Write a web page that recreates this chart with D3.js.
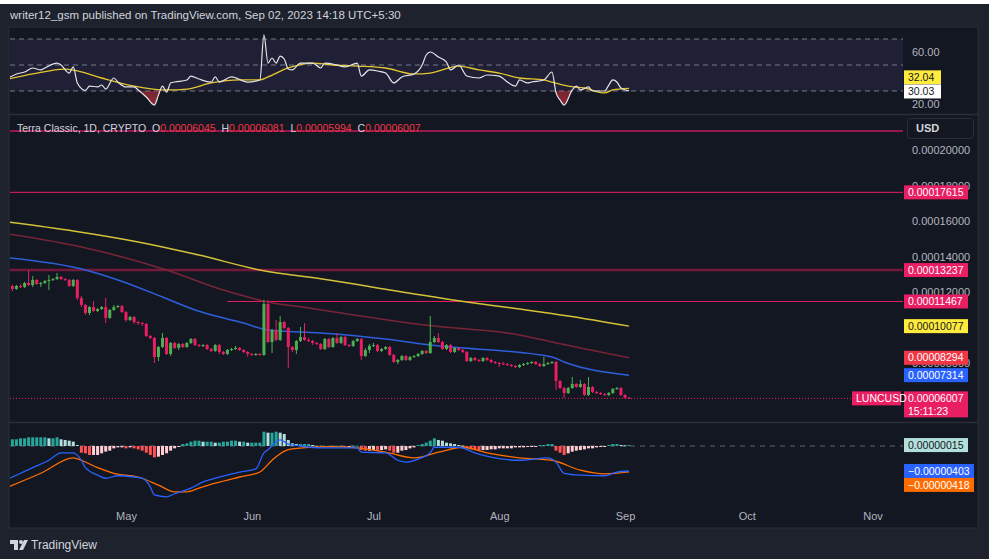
<!DOCTYPE html>
<html>
<head>
<meta charset="utf-8">
<script src="https://cdn.jsdelivr.net/npm/d3@7"></script>
<style>
  body { margin: 0; background: #1e222d; }
  svg { display: block; font-family: "Liberation Sans", Arial, sans-serif; }
</style>
</head>
<body>
<svg id="chart" width="989" height="559"></svg>
<script>
// ---- data (prices in units of 1e-5 USD, MACD in units of 1e-6) ----
var firstDay = new Date(2023, 3, 3);   // first daily candle, Apr 3 2023
var firstOpen = 12.34;

var closes = [12.17,12.34,12.28,12.51,12.39,12.68,12.45,12.51,12.62,12.68,12.73,12.85,12.73,12.68,12.34,12.68,
  11.66,11.27,10.82,11.15,10.93,11.04,11.15,10.54,10.99,11.15,11.21,10.87,10.42,10.59,10.31,10.25,10.20,9.52,9.41,
  8.34,8.90,9.41,8.51,9.13,8.85,9.07,8.90,9.13,9.35,9.01,8.96,9.01,8.79,8.68,9.01,8.62,8.51,8.73,8.79,8.85,8.73,
  8.62,8.51,8.45,8.51,8.45,11.32,9.18,9.86,9.30,10.31,9.97,8.90,8.73,9.24,9.46,9.30,9.24,9.13,9.07,8.79,9.35,8.90,
  9.41,9.13,9.46,9.01,8.96,9.24,9.35,8.39,8.73,8.96,9.01,8.68,8.79,8.90,8.45,8.06,8.17,8.39,8.17,8.34,8.39,8.51,
  8.68,8.56,9.18,9.41,9.18,8.79,9.01,8.62,8.85,8.73,8.62,8.11,8.28,8.17,8.11,8.28,8.17,8.06,8.00,7.97,7.94,7.89,
  7.83,7.77,7.89,7.94,8.00,8.06,7.94,7.83,7.94,8.00,8.06,6.99,6.59,6.31,6.59,6.82,6.65,6.82,6.20,6.65,6.37,6.31,
  6.25,6.20,6.31,6.54,6.59,6.20,6.045,6.007];

var highs = [12.40,12.40,12.45,12.57,13.24,12.90,12.73,12.57,12.68,12.96,12.79,13.07,12.90,12.79,12.73,12.73,
  12.73,11.77,11.32,11.21,11.49,11.10,11.21,11.66,11.04,11.27,11.27,11.27,10.93,10.65,10.65,10.37,10.31,10.25,9.58,
  9.46,8.96,9.69,9.46,9.18,9.18,9.13,9.13,9.18,9.41,9.41,9.07,9.07,9.07,8.85,9.07,9.07,8.68,8.79,8.85,8.96,8.90,
  8.79,8.68,8.56,8.56,8.56,11.55,11.55,9.92,10.42,10.65,10.37,10.03,8.96,9.30,10.03,10.25,9.41,9.30,9.18,9.13,9.41,
  9.41,9.46,9.69,9.52,9.52,9.07,9.30,9.41,9.41,8.85,9.07,9.13,9.07,8.85,8.96,8.96,8.51,8.23,8.45,8.45,8.39,8.45,
  8.56,8.73,8.73,10.65,9.52,9.69,9.24,9.07,9.07,8.90,8.90,8.79,8.68,8.34,8.34,8.23,8.34,8.34,8.23,8.11,8.06,8.06,
  8.00,7.94,7.89,7.94,8.00,8.06,8.11,8.11,8.00,8.34,8.06,8.11,8.11,7.04,6.65,6.65,7.21,6.87,7.04,6.87,7.21,6.70,
  6.42,6.37,6.31,6.37,6.59,6.65,6.65,6.25,6.081];

var lows = [12.05,12.12,12.22,12.22,12.34,12.28,12.40,12.28,12.45,12.11,12.62,12.68,12.68,12.62,12.28,12.28,
  11.55,11.15,10.70,10.70,10.87,10.87,10.99,10.25,10.48,10.93,11.10,10.82,10.31,10.37,10.20,10.14,10.08,9.46,9.35,
  8.00,8.11,8.85,8.45,8.40,8.79,8.73,8.85,8.85,9.07,8.96,8.90,8.90,8.73,8.62,8.62,8.51,8.45,8.45,8.68,8.73,8.68,
  8.56,8.34,8.40,8.40,8.40,8.40,9.13,8.56,9.24,9.24,9.92,7.72,8.62,8.51,9.18,9.24,9.18,9.01,9.01,8.73,8.73,8.85,
  8.85,9.07,9.07,8.96,8.90,8.90,9.18,8.17,8.34,8.56,8.90,8.62,8.62,8.73,8.40,8.00,7.94,8.11,8.11,8.11,8.28,8.34,
  8.45,8.51,8.51,9.13,9.13,8.73,8.73,8.56,8.56,8.68,8.56,8.06,8.06,8.11,8.06,8.06,8.11,8.00,7.94,7.77,7.89,7.83,
  7.77,7.72,7.72,7.83,7.89,7.94,7.89,7.77,7.77,7.89,7.94,6.48,6.54,6.03,6.25,6.54,6.59,6.59,6.14,6.14,6.31,6.25,
  6.20,6.14,6.14,6.25,6.48,6.14,6.00,5.994];

// moving averages (day index, value)
var maYellowIdx = [-1, 15, 31, 46, 61, 78, 90, 112, 125, 137, 152];
var maYellowVal = [15.94, 15.44, 14.82, 14.08, 13.24, 12.68, 12.23, 11.44, 11.04, 10.65, 10.077];
var maRedIdx = [-1, 17, 38, 52, 63, 73, 81, 101, 125, 133, 152];
var maRedVal = [15.27, 14.54, 13.24, 12.11, 11.44, 11.10, 10.82, 10.15, 9.58, 9.18, 8.294];
var maBlueIdx = [-1, 18, 26, 37, 45, 57, 63, 76, 92, 103, 133, 136, 152];
var maBlueVal = [13.92, 13.24, 12.68, 11.72, 10.99, 10.25, 9.86, 9.69, 9.35, 9.01, 8.34, 8.06, 7.314];

// horizontal levels
var levelVals = [21.07, 17.615, 13.237, 11.467];
var levelStartIdx = [-1, -1, -1, 53];

// RSI
var rsiIdx = [-1,1,3,5,7,8,11,12,14,15,16,18,19,21,22,23,25,26,28,30,31,33,35,36,37,38,39,40,43,44,46,49,50,51,
  54,58,61,62,63,64,65,66,67,68,69,71,74,76,77,80,82,85,86,88,90,92,94,96,99,101,102,103,105,107,108,110,112,115,
  117,120,122,124,125,127,128,131,133,134,135,136,138,139,140,142,143,146,147,148,149,150,152];
var rsiVal = [40.0,43.1,44.6,47.7,46.2,47.7,51.5,50.0,43.8,48.5,36.2,30.5,33.8,33.1,34.6,31.5,40.0,36.9,33.1,33.1,
  30.8,25.4,19.2,26.9,33.8,29.2,36.2,36.9,38.5,41.5,39.2,36.9,40.8,36.9,40.8,36.9,38.5,73.1,51.5,55.4,51.5,56.9,
  54.6,46.9,46.2,51.5,51.5,47.7,51.5,50.0,48.5,51.5,41.5,46.2,45.4,43.8,36.2,40.8,43.1,50.0,57.7,60.0,56.2,52.3,
  46.2,50.0,41.5,40.0,42.3,41.5,36.9,33.8,38.5,36.2,36.9,38.5,44.6,28.5,23.1,19.2,30.8,33.8,30.8,33.1,30.0,30.0,
  34.6,38.5,36.9,32.3,30.03];
var rsiMaIdx = [-1,5,13,16,22,30,38,43,49,56,61,63,68,74,79,85,92,99,103,110,115,120,125,131,133,137,141,146,148,152];
var rsiMaVal = [39.2,43.1,46.9,45.4,40.0,33.8,30.8,31.5,36.2,38.5,38.5,40.8,47.7,51.5,50.0,49.2,47.7,43.1,43.8,
  49.2,46.2,43.8,40.0,38.5,36.9,33.8,32.3,28.5,30.8,32.04];

// MACD
var macdIdx = [-1,5,9,12,15,17,18,21,23,26,30,32,34,35,38,40,44,47,50,56,60,62,63,66,68,71,76,85,86,92,95,97,100,
  103,104,110,114,118,125,132,134,136,140,146,149,152];
var macdVal = [-5.3,-3.5,-2.3,-1.1,-1.1,-2.3,-3.5,-4.7,-5.2,-4.8,-5.0,-5.2,-6.6,-7.9,-8.2,-7.7,-6.8,-5.8,-5.2,-4.2,
  -3.7,-1.1,-0.6,1.0,0.3,0,-0.3,-0.3,-1.0,-1.1,-2.3,-2.6,-2.1,-1.1,-0.2,-0.2,-1.1,-1.8,-2.3,-1.9,-2.6,-4.4,-4.7,
  -4.8,-4.2,-4.03];
var sigIdx = [-1,7,15,17,21,25,31,36,40,43,46,50,56,61,64,68,74,78,85,92,99,105,111,117,125,133,140,146,152];
var sigVal = [-6.6,-4.4,-1.9,-2.3,-3.5,-4.4,-5.0,-6.3,-7.4,-7.4,-6.8,-6.0,-5.0,-4.2,-2.3,-0.6,-0.2,-0.1,-0.3,-1.0,
  -1.9,-1.0,-0.2,-1.1,-1.9,-2.3,-3.9,-4.5,-4.18];
var hist = [1.08,1.08,1.24,1.24,1.40,1.40,1.40,1.40,1.40,1.24,1.24,1.40,1.08,0.97,0.86,0.70,0.16,
  -1.08,-1.18,-1.45,-1.45,-1.45,-1.18,-0.91,-0.75,-0.38,-0.22,-0.22,-0.38,-0.22,-0.38,-0.54,-0.75,-1.08,-1.45,-1.83,
  -1.72,-1.45,-1.18,-0.75,-0.38,-0.11,
  0.32,0.43,0.70,0.86,0.86,0.70,0.70,0.70,0.54,0.54,0.70,0.70,0.86,0.86,0.70,0.70,0.54,0.54,0.54,0.54,
  2.31,2.15,2.15,2.31,2.15,1.94,0.97,0.43,0.32,0.32,0.32,0.32,0.16,0.05,
  0.05,-0.05,0.05,-0.05,0.05,0.05,-0.05,-0.05,0.05,0.05,
  -0.65,-0.75,-0.75,-0.65,-0.75,-0.65,-0.54,-0.75,-1.08,-1.08,-0.75,-0.65,-0.38,-0.22,
  0.16,0.32,0.54,0.86,1.24,0.97,0.86,0.54,0.43,0.32,0.16,0.05,
  -0.38,-0.54,-0.65,-0.75,-0.65,-0.65,-0.54,-0.54,-0.38,-0.38,-0.38,-0.38,-0.22,-0.22,-0.22,-0.11,-0.05,-0.05,
  0.16,0.16,0.32,0.32,
  -0.75,-1.08,-1.45,-1.18,-0.91,-0.75,-0.65,-0.54,-0.38,-0.38,-0.22,-0.11,-0.05,
  0.16,0.32,0.32,0.16,0.11,0.15];

var priceTicks = [20, 18, 16, 14, 12, 8];
var rsiTicks = [60, 20];
var rsiLevels = [70, 50, 30];

// ---- layout ----
var W = 989, H = 559;
var plotL = 10, plotR = 903;
var svg = d3.select("#chart");

var up = "#4caf50", down = "#e91e63";
function day(i) { return d3.timeDay.offset(firstDay, i); }
function fmt8(v) { return (v < 0 ? "\u22120" : "0") + d3.format(".8f")(Math.abs(v)).slice(1); }

// background and frame
svg.append("rect").attr("width", W).attr("height", H).attr("fill", "#1e222d");
svg.append("rect").attr("width", W).attr("height", 4).attr("fill", "#ffffff");
svg.append("rect").attr("x", 9).attr("y", 27).attr("width", 969).attr("height", 501)
  .attr("fill", "#131722").attr("stroke", "#2a2e39");
[114.5, 422.5].forEach(function (y) {
  svg.append("line").attr("x1", 9).attr("x2", 978).attr("y1", y).attr("y2", y)
    .attr("stroke", "#2a2e39").attr("stroke-width", 1.5);
});

svg.append("text").attr("x", 10).attr("y", 19).attr("fill", "#d1d4dc").attr("font-size", 11.5)
  .text("writer12_gsm published on TradingView.com, Sep 02, 2023 14:18 UTC+5:30");

// x scale: May 1 .. Sep 1 mapped, then widened to the visible area
var x0 = d3.scaleTime().domain([new Date(2023, 4, 1), new Date(2023, 8, 1)]).range([126, 625]);
var x = x0.copy().domain([x0.invert(plotL), x0.invert(plotR)]).range([plotL, plotR]);

var defs = svg.append("defs");
function clip(id, y0, y1) {
  defs.append("clipPath").attr("id", id).append("rect")
    .attr("x", plotL).attr("y", y0).attr("width", plotR - plotL).attr("height", y1 - y0);
}
clip("clipRsi", 28, 114);
clip("clipMain", 115, 422);
clip("clipMacd", 423, 507);

function pts(idx, vals) { return idx.map(function (d, k) { return [day(d), vals[k]]; }); }

// ---- RSI pane ----
var yR = d3.scaleLinear().domain([20, 60]).range([104, 52]);
var gR = svg.append("g").attr("clip-path", "url(#clipRsi)");
gR.append("rect").attr("x", plotL).attr("width", plotR - plotL)
  .attr("y", yR(70)).attr("height", yR(30) - yR(70)).attr("fill", "rgba(126,87,194,0.12)");
rsiLevels.forEach(function (v) {
  gR.append("line").attr("x1", plotL).attr("x2", plotR).attr("y1", yR(v)).attr("y2", yR(v))
    .attr("stroke", "#787b86").attr("stroke-dasharray", "5,4").attr("stroke-width", 1);
});

var grad = defs.append("linearGradient").attr("id", "osGrad").attr("x1", 0).attr("x2", 0).attr("y1", 0).attr("y2", 1);
grad.append("stop").attr("offset", "0%").attr("stop-color", "rgba(242,54,69,0.05)");
grad.append("stop").attr("offset", "100%").attr("stop-color", "rgba(242,54,69,0.55)");
defs.append("clipPath").attr("id", "clipOs").append("rect")
  .attr("x", plotL).attr("y", yR(30)).attr("width", plotR - plotL).attr("height", 114 - yR(30));

var rsiPts = pts(rsiIdx, rsiVal);
gR.append("path").datum(rsiPts).attr("clip-path", "url(#clipOs)")
  .attr("fill", "url(#osGrad)")
  .attr("d", d3.area().x(function (d) { return x(d[0]); }).y0(yR(30)).y1(function (d) { return yR(d[1]); })
    .curve(d3.curveMonotoneX));

var lineR = d3.line().x(function (d) { return x(d[0]); }).y(function (d) { return yR(d[1]); }).curve(d3.curveMonotoneX);
gR.append("path").datum(pts(rsiMaIdx, rsiMaVal)).attr("fill", "none")
  .attr("stroke", "#e6c62e").attr("stroke-width", 1.3).attr("d", lineR);
gR.append("path").datum(rsiPts).attr("fill", "none")
  .attr("stroke", "#e4e4e8").attr("stroke-width", 1.2).attr("d", lineR);

rsiTicks.forEach(function (v) {
  svg.append("text").attr("x", 912).attr("y", yR(v)).attr("dy", "0.35em")
    .attr("fill", "#b2b5be").attr("font-size", 11).text(d3.format(".2f")(v));
});

// ---- main price pane ----
var yP = d3.scaleLinear().domain([6, 20]).range([398.5, 150]);
var gM = svg.append("g").attr("clip-path", "url(#clipMain)");

svg.append("g").attr("transform", "translate(905,0)")
  .call(d3.axisRight(yP).tickValues(priceTicks).tickSize(0).tickPadding(7)
    .tickFormat(function (v) { return fmt8(v * 1e-5); }))
  .call(function (g) {
    g.select(".domain").remove();
    g.selectAll("text").attr("fill", "#b2b5be").attr("font-size", 11)
      .attr("font-family", "Liberation Sans, Arial, sans-serif");
  });

// levels
var levelStyle = [
  { c: "#c2185b", w: 1.5 }, { c: "#e91e63", w: 1 }, { c: "#731838", w: 2.5 }, { c: "#e91e63", w: 1 }
];
levelVals.forEach(function (v, k) {
  gM.append("line").attr("x1", Math.max(plotL, x(day(levelStartIdx[k])))).attr("x2", plotR)
    .attr("y1", yP(v)).attr("y2", yP(v))
    .attr("stroke", levelStyle[k].c).attr("stroke-width", levelStyle[k].w);
});

// moving averages
var lineP = d3.line().x(function (d) { return x(d[0]); }).y(function (d) { return yP(d[1]); }).curve(d3.curveMonotoneX);
gM.append("path").datum(pts(maYellowIdx, maYellowVal)).attr("fill", "none")
  .attr("stroke", "#d4c13a").attr("stroke-width", 1.5).attr("d", lineP);
gM.append("path").datum(pts(maRedIdx, maRedVal)).attr("fill", "none")
  .attr("stroke", "#782537").attr("stroke-width", 1.5).attr("d", lineP);
gM.append("path").datum(pts(maBlueIdx, maBlueVal)).attr("fill", "none")
  .attr("stroke", "#2d5fdc").attr("stroke-width", 1.5).attr("d", lineP);

// current price dotted line
var last = closes[closes.length - 1];
gM.append("line").attr("x1", plotL).attr("x2", 853).attr("y1", yP(last)).attr("y2", yP(last))
  .attr("stroke", "#e91e63").attr("stroke-dasharray", "1,2");

// candles
var candles = closes.map(function (c, i) {
  return { date: day(i), o: i === 0 ? firstOpen : closes[i - 1], h: highs[i], l: lows[i], c: c };
});
candles[candles.length - 1].o = 6.045;
var gc = gM.selectAll(".candle").data(candles).enter().append("g");
gc.append("line")
  .attr("x1", function (d) { return x(d.date); }).attr("x2", function (d) { return x(d.date); })
  .attr("y1", function (d) { return yP(d.h); }).attr("y2", function (d) { return yP(d.l); })
  .attr("stroke", function (d) { return d.c >= d.o ? up : down; });
gc.append("rect")
  .attr("x", function (d) { return x(d.date) - 1.5; }).attr("width", 3)
  .attr("y", function (d) { return yP(Math.max(d.o, d.c)); })
  .attr("height", function (d) { return Math.max(1, Math.abs(yP(d.o) - yP(d.c))); })
  .attr("fill", function (d) { return d.c >= d.o ? up : down; });

// legend
var leg = svg.append("text").attr("x", 17).attr("y", 132).attr("font-size", 10.5);
[["Terra Classic, 1D, CRYPTO  O", "#d1d4dc"], ["0.00006045", "#f23645"], ["  H", "#d1d4dc"], ["0.00006081", "#f23645"],
 ["  L", "#d1d4dc"], ["0.00005994", "#f23645"], ["  C", "#d1d4dc"], ["0.00006007", "#f23645"]].forEach(function (p) {
  leg.append("tspan").attr("fill", p[1]).attr("xml:space", "preserve").text(p[0]);
});

svg.append("rect").attr("x", 907.5).attr("y", 118.5).attr("width", 66).attr("height", 20).attr("rx", 3)
  .attr("fill", "#131722").attr("stroke", "#2a2e39");
svg.append("text").attr("x", 916).attr("y", 132).attr("fill", "#d1d4dc").attr("font-size", 11)
  .attr("font-weight", "bold").text("USD");

// value tags on the axes
function tag(cy, lines, bg, fg, w, x0p) {
  var h = 14 + (lines.length - 1) * 12;
  var xx = x0p || 904;
  svg.append("rect").attr("x", xx).attr("y", cy - 7).attr("width", w).attr("height", h).attr("fill", bg);
  lines.forEach(function (t, k) {
    svg.append("text").attr("x", xx + 4).attr("y", cy + k * 12.5).attr("dy", "0.35em")
      .attr("fill", fg).attr("font-size", 10.5).text(t);
  });
}
tag(yP(17.615), [fmt8(17.615e-5)], "#e91e63", "#ffffff", 64);
tag(yP(13.237), [fmt8(13.237e-5)], "#e91e63", "#ffffff", 64);
tag(yP(11.467), [fmt8(11.467e-5)], "#e91e63", "#ffffff", 64);
tag(yP(10.077), [fmt8(10.077e-5)], "#ffeb3b", "#131722", 64);
tag(yP(8.294), [fmt8(8.294e-5)], "#f23645", "#ffffff", 64);
tag(yP(7.314), [fmt8(7.314e-5)], "#2962ff", "#ffffff", 64);
tag(yP(last), [fmt8(last * 1e-5), "15:11:23"], "#e91e63", "#ffffff", 64);
tag(yP(last), ["LUNCUSD"], "#e91e63", "#ffffff", 49, 852);

tag(yR(rsiMaVal[rsiMaVal.length - 1]) - 11, [d3.format(".2f")(rsiMaVal[rsiMaVal.length - 1])], "#ffeb3b", "#131722", 37);
tag(yR(rsiVal[rsiVal.length - 1]) + 0.5, [d3.format(".2f")(rsiVal[rsiVal.length - 1])], "#ffffff", "#131722", 37);

// ---- MACD pane ----
var yM = d3.scaleLinear().domain([-8, 2]).range([495.6, 433.6]);
var gD = svg.append("g").attr("clip-path", "url(#clipMacd)");
gD.append("line").attr("x1", plotL).attr("x2", plotR).attr("y1", yM(0)).attr("y2", yM(0))
  .attr("stroke", "#787b86").attr("stroke-dasharray", "5,5").attr("opacity", 0.8);

gD.selectAll(".bar").data(hist).enter().append("rect")
  .attr("x", function (d, i) { return x(day(i)) - 1.5; }).attr("width", 3)
  .attr("y", function (d) { return Math.min(yM(0), yM(d)); })
  .attr("height", function (d) { return Math.max(1, Math.abs(yM(d) - yM(0))); })
  .attr("fill", function (d, i) {
    var prev = i > 0 ? hist[i - 1] : d;
    if (d >= 0) return d >= prev ? "#26a69a" : "#b2dfdb";
    return d < prev ? "#ff5252" : "#ffcdd2";
  });

var lineM = d3.line().x(function (d) { return x(d[0]); }).y(function (d) { return yM(d[1]); }).curve(d3.curveMonotoneX);
gD.append("path").datum(pts(sigIdx, sigVal)).attr("fill", "none")
  .attr("stroke", "#ff6d00").attr("stroke-width", 1.3).attr("d", lineM);
gD.append("path").datum(pts(macdIdx, macdVal)).attr("fill", "none")
  .attr("stroke", "#2962ff").attr("stroke-width", 1.3).attr("d", lineM);

tag(yM(hist[hist.length - 1]), [fmt8(hist[hist.length - 1] * 1e-6)], "#b2dfdb", "#131722", 64);
tag(yM(macdVal[macdVal.length - 1]), [fmt8(macdVal[macdVal.length - 1] * 1e-6)], "#2962ff", "#ffffff", 70);
tag(yM(sigVal[sigVal.length - 1]) + 13, [fmt8(sigVal[sigVal.length - 1] * 1e-6)], "#ff6d00", "#ffffff", 70);

// ---- time axis ----
svg.append("g").attr("transform", "translate(0,508)")
  .call(d3.axisBottom(x).ticks(d3.timeMonth.every(1)).tickFormat(d3.timeFormat("%b")).tickSize(0).tickPadding(4))
  .call(function (g) {
    g.select(".domain").remove();
    g.selectAll("text").attr("fill", "#b2b5be").attr("font-size", 11)
      .attr("font-family", "Liberation Sans, Arial, sans-serif");
  });

// ---- footer logo ----
var logo = svg.append("g").attr("fill", "#d1d4dc");
logo.append("path").attr("d", "M10,540 h8 v10 h-4 v-6 h-4 z");
logo.append("circle").attr("cx", 21).attr("cy", 542).attr("r", 2);
logo.append("path").attr("d", "M19,550 l5,-10 h4 l-5,10 z");
svg.append("text").attr("x", 31).attr("y", 549).attr("fill", "#d1d4dc").attr("font-size", 12).text("TradingView");
</script>
</body>
</html>
